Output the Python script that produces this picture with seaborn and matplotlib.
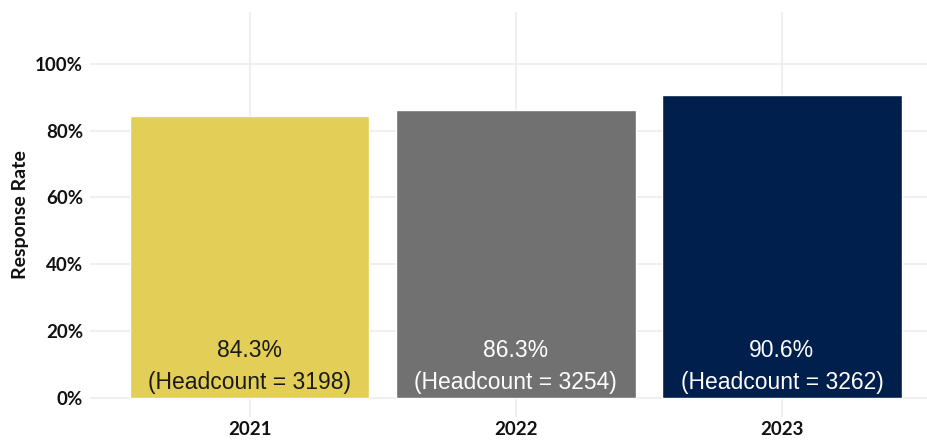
import matplotlib
matplotlib.use("Agg")
import matplotlib.pyplot as plt
import seaborn as sns
import pandas as pd
from matplotlib.ticker import FuncFormatter

years = ["2021", "2022", "2023"]
response_rate = [0.843, 0.863, 0.906]
headcount = [3198, 3254, 3262]
bar_colors = ["#E3CF57", "#717171", "#001F4D"]
label_colors = ["#1a1a1a", "#ffffff", "#ffffff"]

df = pd.DataFrame({"Year": years, "Rate": response_rate, "Headcount": headcount})

sns.set_theme(style="whitegrid")
plt.rcParams["font.family"] = ["Lato", "DejaVu Sans"]

fig = plt.figure(figsize=(9.27, 4.4), dpi=100)
ax = fig.add_axes([90 / 927, 23 / 440, 1 - 90 / 927, (417 - 12) / 440])

sns.barplot(data=df, x="Year", y="Rate", hue="Year", palette=bar_colors,
            width=0.9, legend=False, ax=ax, saturation=1)

for i, (r, h) in enumerate(zip(response_rate, headcount)):
    ax.text(i, 0.143, f"{r * 100:.1f}%", ha="center", va="center",
            fontsize=16.5, color=label_colors[i], family="Liberation Sans")
    ax.text(i, 0.045, f"(Headcount = {h})", ha="center", va="center",
            fontsize=16.5, color=label_colors[i], family="Liberation Sans")

ax.set_ylim(-0.057, 1.155)
ax.set_xlim(-0.6, 2 + (927 - 782) / 266)
ax.set_yticks([0, 0.2, 0.4, 0.6, 0.8, 1.0])
ax.yaxis.set_major_formatter(FuncFormatter(lambda v, _: f"{v * 100:.0f}%"))

ax.set_xlabel("")
ax.set_ylabel("Response Rate", fontsize=14, fontweight="bold", color="#111111", labelpad=4)
ax.tick_params(axis="y", labelsize=13.5, colors="#111111", length=0, pad=5)
ax.tick_params(axis="x", labelsize=13.5, colors="#111111", length=0, pad=3)
for lab in ax.get_xticklabels() + ax.get_yticklabels():
    lab.set_fontweight("bold")

ax.grid(True, color="#ebebeb", linewidth=1.1)
ax.set_axisbelow(True)
for s in ax.spines.values():
    s.set_visible(False)
ax.set_facecolor("white")

fig.savefig("out.png", dpi=100, facecolor="white")
